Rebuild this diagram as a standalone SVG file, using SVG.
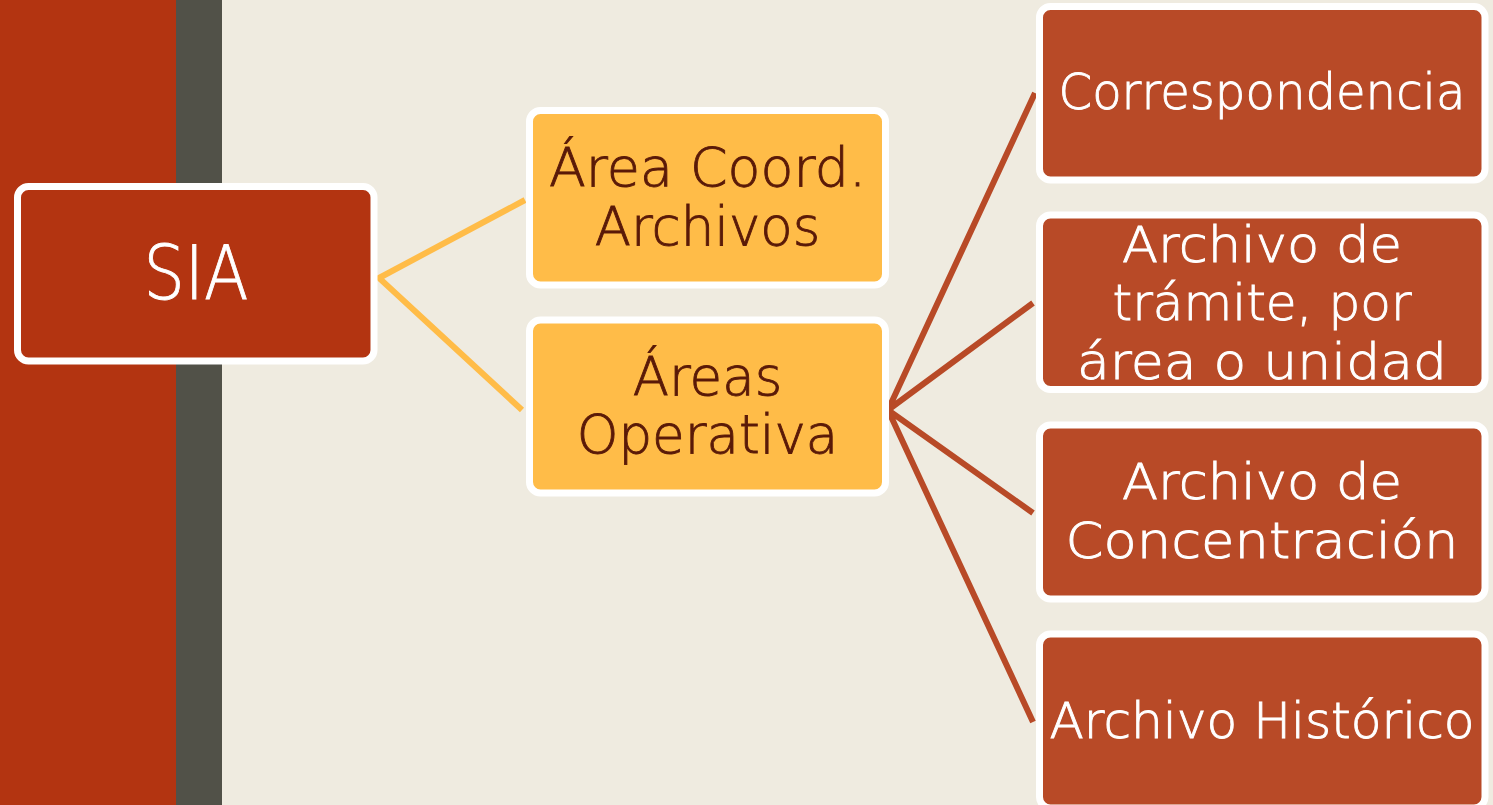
<svg xmlns="http://www.w3.org/2000/svg" width="1493" height="805" viewBox="0 0 1493 805">
<style>
.box{stroke:#FFFFFF;stroke-width:7}
.red{fill:#B33411}
.yel{fill:#FFBC48}
.brn{fill:#B84A27}
.t{font-family:"DejaVu Sans",sans-serif;font-weight:200;text-anchor:middle;stroke-width:0.9}
.tw{fill:#FFFFFF;stroke:#FFFFFF}
.td{fill:#5A1A08;stroke:#5A1A08}
.cy{fill:none;stroke:#FFBC48;stroke-width:6}
.cr{fill:none;stroke:#B84A27;stroke-width:6}
</style>
<rect x="0" y="0" width="1493" height="805" fill="#EFEBE0"/>
<rect x="0" y="0" width="176" height="805" fill="#B33411"/>
<rect x="176" y="0" width="46" height="805" fill="#515148"/>
<g id="connectors">
<polyline class="cy" points="525,200 379,278 522,410"/>
<polyline class="cr" points="1035,93 888,410 1033,303"/>
<polyline class="cr" points="1033,513 888,410 1033,722"/>
</g>
<g id="sia">
<rect class="box red" x="17.5" y="186.5" width="356.5" height="174.5" rx="11"/>
<text class="t tw" x="196" y="299" font-size="74" textLength="105" lengthAdjust="spacingAndGlyphs">SIA</text>
</g>
<g id="area-coord">
<rect class="box yel" x="529.5" y="110.5" width="356" height="174.5" rx="11"/>
<text class="t td" x="707.5" y="186" font-size="53" textLength="317" lengthAdjust="spacingAndGlyphs">Área Coord.</text>
<text class="t td" x="707.5" y="245" font-size="53">Archivos</text>
</g>
<g id="areas-operativa">
<rect class="box yel" x="529.5" y="320" width="356" height="173" rx="11"/>
<text class="t td" x="707.5" y="395" font-size="53">Áreas</text>
<text class="t td" x="707.5" y="453" font-size="53">Operativa</text>
</g>
<g id="correspondencia">
<rect class="box brn" x="1039.5" y="6.5" width="445.5" height="173.5" rx="11"/>
<text class="t tw" x="1262" y="109" font-size="50" textLength="407" lengthAdjust="spacingAndGlyphs">Correspondencia</text>
</g>
<g id="archivo-tramite">
<rect class="box brn" x="1039.5" y="215" width="445.5" height="174.5" rx="11"/>
<text class="t tw" x="1262" y="262" font-size="50" textLength="280" lengthAdjust="spacingAndGlyphs">Archivo de</text>
<text class="t tw" x="1262" y="320" font-size="50" textLength="299" lengthAdjust="spacingAndGlyphs">trámite, por</text>
<text class="t tw" x="1262" y="379" font-size="50" textLength="370" lengthAdjust="spacingAndGlyphs">área o unidad</text>
</g>
<g id="archivo-concentracion">
<rect class="box brn" x="1039.5" y="425" width="445.5" height="174" rx="11"/>
<text class="t tw" x="1262" y="499" font-size="50" textLength="280" lengthAdjust="spacingAndGlyphs">Archivo de</text>
<text class="t tw" x="1262" y="558" font-size="50" textLength="393" lengthAdjust="spacingAndGlyphs">Concentración</text>
</g>
<g id="archivo-historico">
<rect class="box brn" x="1039.5" y="634" width="445.5" height="174" rx="11"/>
<text class="t tw" x="1262" y="738" font-size="50" textLength="425" lengthAdjust="spacingAndGlyphs">Archivo Histórico</text>
</g>
</svg>
